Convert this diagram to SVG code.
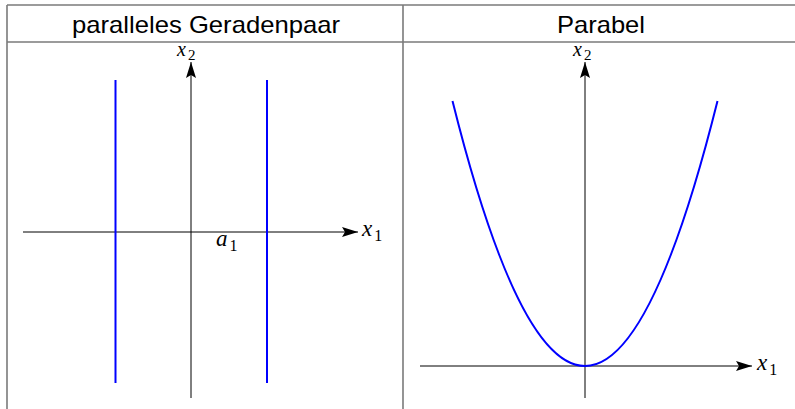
<svg xmlns="http://www.w3.org/2000/svg" width="795" height="409" viewBox="0 0 795 409">
<style>
.grid{stroke:#7a7a7a;stroke-width:1.6;fill:none}
.axis{stroke:#000;stroke-width:1;fill:none}
.curve{stroke:#0000ff;stroke-width:2;fill:none}
.hdr{font-family:"Liberation Sans","DejaVu Sans",sans-serif;font-size:24px;fill:#000;text-anchor:middle}
.m{font-family:"Liberation Serif","DejaVu Serif",serif;font-style:italic;font-size:23px;fill:#000}
.mt{font-size:20px}
.s{font-family:"Liberation Serif","DejaVu Serif",serif;font-style:normal;font-size:16px;fill:#000}
</style>
<defs>
<marker id="arr" viewBox="0 0 16 10" refX="16" refY="5" markerWidth="16" markerHeight="10" markerUnits="userSpaceOnUse" orient="auto">
<path d="M0,0 L16,5 L0,10 L3,5 Z" fill="#000"/>
</marker>
</defs>
<g id="table">
<line class="grid" x1="7" y1="5" x2="795" y2="5"/>
<line class="grid" x1="7" y1="42" x2="795" y2="42"/>
<line class="grid" x1="7" y1="5" x2="7" y2="409"/>
<line class="grid" x1="403" y1="5" x2="403" y2="409"/>
<text class="hdr" x="206" y="33" textLength="268" lengthAdjust="spacingAndGlyphs">paralleles Geradenpaar</text>
<text class="hdr" x="601" y="33" textLength="88" lengthAdjust="spacingAndGlyphs">Parabel</text>
</g>
<g id="connectors">
<line class="axis" x1="191" y1="398" x2="191" y2="62" marker-end="url(#arr)"/>
<line class="axis" x1="23" y1="232" x2="358" y2="232" marker-end="url(#arr)"/>
<line class="axis" x1="585" y1="398" x2="585" y2="62" marker-end="url(#arr)"/>
<line class="axis" x1="420" y1="366" x2="752" y2="366" marker-end="url(#arr)"/>
</g>
<g id="left-lines">
<line class="curve" x1="115.5" y1="80" x2="115.5" y2="383"/>
<line class="curve" x1="267" y1="80" x2="267" y2="383"/>
</g>
<g id="parabola">
<path class="curve" d="M452.5,101 Q585,631 717.5,101"/>
</g>
<g id="labels">
<text class="m mt" x="177" y="56">x<tspan class="s" dx="2" dy="4" style="font-size:15px">2</tspan></text>
<text class="m" x="362" y="236">x<tspan class="s" dx="2" dy="5">1</tspan></text>
<text class="m" x="216" y="246">a<tspan class="s" dx="2" dy="5">1</tspan></text>
<text class="m mt" x="573" y="56">x<tspan class="s" dx="2" dy="4" style="font-size:15px">2</tspan></text>
<text class="m" x="757" y="370">x<tspan class="s" dx="2" dy="5">1</tspan></text>
</g>
</svg>
